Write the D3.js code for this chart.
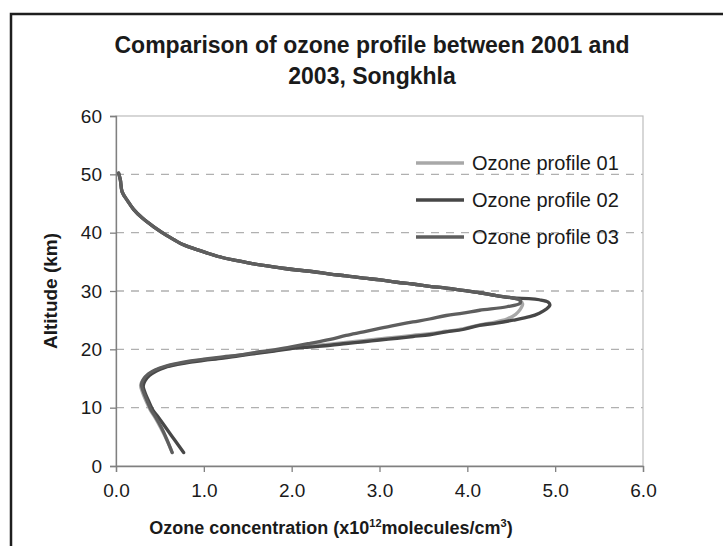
<!DOCTYPE html>
<html>
<head>
<meta charset="utf-8">
<script src="https://cdn.jsdelivr.net/npm/d3@7"></script>
<style>
  html, body { margin: 0; padding: 0; background: #fff; }
  svg { display: block; font-family: "Liberation Sans", Arial, sans-serif; }
</style>
</head>
<body>
<svg id="chart" width="723" height="546"></svg>
<script>
// Ozone profiles: concentration (x10^12 molecules/cm^3) against altitude (km)
const seriesNames = ["Ozone profile 01", "Ozone profile 02", "Ozone profile 03"];
const seriesColors = ["#a8a8a8", "#474747", "#5e5e5e"];

// shared stratospheric part above the peak
const upperConc = [0.03, 0.05, 0.07, 0.13, 0.20, 0.30, 0.43, 0.58, 0.73, 0.88, 1.04, 1.22, 1.38, 1.55, 1.72, 1.90, 2.06, 2.25, 2.44, 2.62, 2.82, 3.01, 3.20, 3.38, 3.57, 3.76, 3.95, 4.14, 4.33, 4.52];
const upperAlt  = [50.2, 49.0, 47.0, 45.5, 44.0, 42.5, 41.0, 39.5, 38.2, 37.3, 36.5, 35.7, 35.2, 34.7, 34.3, 33.9, 33.6, 33.3, 32.9, 32.6, 32.2, 31.9, 31.5, 31.2, 30.8, 30.5, 30.1, 29.7, 29.2, 28.8];

// profile 01: peak and lower part
const lower01Conc = [4.60, 4.63, 4.60, 4.55, 4.45, 4.29, 4.14, 3.95, 3.76, 3.57, 3.38, 3.20, 3.00, 2.82, 2.62, 2.44, 2.20, 1.98, 1.80, 1.60, 1.40, 1.22, 1.00, 0.85, 0.70, 0.56, 0.45, 0.36, 0.30, 0.28, 0.30, 0.34, 0.39, 0.44, 0.51, 0.58, 0.64];
const lower01Alt  = [28.4, 27.8, 26.8, 26.0, 25.2, 24.6, 24.2, 23.5, 23.1, 22.7, 22.4, 22.1, 21.8, 21.5, 21.2, 20.9, 20.6, 20.2, 19.8, 19.4, 19.0, 18.6, 18.2, 17.9, 17.5, 17.0, 16.4, 15.6, 14.6, 13.8, 12.7, 11.2, 9.6, 8.4, 6.5, 4.4, 2.3];

// profile 02: peak and lower part
const lower02Conc = [4.70, 4.82, 4.92, 4.94, 4.90, 4.82, 4.71, 4.52, 4.33, 4.14, 3.95, 3.76, 3.57, 3.38, 3.20, 3.00, 2.82, 2.62, 2.44, 2.20, 1.98, 1.80, 1.60, 1.40, 1.22, 1.00, 0.85, 0.70, 0.56, 0.46, 0.38, 0.33, 0.31, 0.33, 0.37, 0.42, 0.48, 0.57, 0.67, 0.77];
const lower02Alt  = [28.7, 28.5, 28.1, 27.6, 26.9, 26.2, 25.6, 25.0, 24.5, 24.1, 23.4, 23.0, 22.5, 22.2, 21.9, 21.6, 21.3, 21.0, 20.7, 20.4, 20.1, 19.7, 19.3, 18.9, 18.5, 18.1, 17.8, 17.4, 16.9, 16.3, 15.5, 14.6, 13.7, 12.6, 11.2, 9.6, 8.4, 6.5, 4.4, 2.3];

// profile 03: peak and lower part
const lower03Conc = [4.60, 4.60, 4.45, 4.14, 3.95, 3.76, 3.57, 3.38, 3.20, 3.00, 2.82, 2.62, 2.44, 2.20, 1.98, 1.80, 1.60, 1.40, 1.22, 1.00, 0.85, 0.70, 0.56, 0.45, 0.37, 0.31, 0.29, 0.31, 0.35, 0.40, 0.45, 0.52, 0.58, 0.64];
const lower03Alt  = [28.4, 27.9, 27.3, 26.7, 26.2, 25.8, 25.2, 24.7, 24.2, 23.6, 23.0, 22.4, 21.7, 21.0, 20.4, 19.9, 19.5, 19.0, 18.7, 18.3, 18.0, 17.6, 17.1, 16.5, 15.8, 14.8, 13.9, 12.8, 11.3, 9.6, 8.4, 6.5, 4.5, 2.3];

const xTicks = [0, 1, 2, 3, 4, 5, 6];
const yTicks = [0, 10, 20, 30, 40, 50, 60];

const svg = d3.select("#chart");

// outer chart frame (left and top edges in view)
svg.append("path")
  .attr("d", "M11,546 L11,14 L723,14")
  .attr("fill", "none").attr("stroke", "#1e1e1e").attr("stroke-width", 2.5);

const x = d3.scaleLinear().domain([0, 6]).range([116, 643]);
const y = d3.scaleLinear().domain([0, 60]).range([466, 116]);

// title
const title = svg.append("text")
  .attr("text-anchor", "middle")
  .attr("font-weight", "bold").attr("font-size", 23).attr("fill", "#1a1a1a");
title.append("tspan").attr("x", 372).attr("y", 53).text("Comparison of ozone profile between 2001 and");
title.append("tspan").attr("x", 372).attr("y", 84).text("2003, Songkhla");

// dashed gridlines
svg.append("g").selectAll("line")
  .data(yTicks.filter(d => d > 0 && d < 60))
  .join("line")
  .attr("x1", x(0)).attr("x2", x(6))
  .attr("y1", d => y(d)).attr("y2", d => y(d))
  .attr("stroke", "#b0b0b0").attr("stroke-width", 1.3)
  .attr("stroke-dasharray", "8,7");

// plot frame
svg.append("rect")
  .attr("x", x(0)).attr("y", y(60))
  .attr("width", x(6) - x(0)).attr("height", y(0) - y(60))
  .attr("fill", "none").attr("stroke", "#bcbcbc").attr("stroke-width", 1.2);

// axes
const xAxis = svg.append("g")
  .attr("transform", `translate(0,${y(0)})`)
  .call(d3.axisBottom(x).tickValues(xTicks).tickFormat(d3.format(".1f")).tickSize(6).tickPadding(12));
const yAxis = svg.append("g")
  .attr("transform", `translate(${x(0)},0)`)
  .call(d3.axisLeft(y).tickValues(yTicks).tickSize(6).tickPadding(8));

[xAxis, yAxis].forEach(g => {
  g.select(".domain").attr("stroke", "#808080").attr("stroke-width", 1.3);
  g.selectAll(".tick line").attr("stroke", "#808080").attr("stroke-width", 1.3);
  g.selectAll(".tick text")
    .attr("font-family", "Liberation Sans, Arial, sans-serif")
    .attr("font-size", 19).attr("fill", "#1a1a1a");
});

// axis titles
svg.append("text")
  .attr("transform", `translate(57,${(y(0) + y(60)) / 2}) rotate(-90)`)
  .attr("text-anchor", "middle")
  .attr("font-weight", "bold").attr("font-size", 19).attr("fill", "#1a1a1a")
  .text("Altitude (km)");

const xt = svg.append("text")
  .attr("x", 331).attr("y", 534)
  .attr("text-anchor", "middle")
  .attr("font-weight", "bold").attr("font-size", 18).attr("fill", "#1a1a1a");
xt.append("tspan").text("Ozone concentration (x10");
xt.append("tspan").attr("font-size", 11).attr("dy", -7).text("12");
xt.append("tspan").attr("dy", 7).text("molecules/cm");
xt.append("tspan").attr("font-size", 11).attr("dy", -7).text("3");
xt.append("tspan").attr("dy", 7).text(")");

// profiles
const zip = (c, a) => c.map((v, i) => ({ conc: v, alt: a[i] }));
const profiles = [
  zip(upperConc.concat(lower01Conc), upperAlt.concat(lower01Alt)),
  zip(upperConc.concat(lower02Conc), upperAlt.concat(lower02Alt)),
  zip(upperConc.concat(lower03Conc), upperAlt.concat(lower03Alt))
];

const line = d3.line()
  .x(d => x(d.conc)).y(d => y(d.alt))
  .curve(d3.curveCatmullRom.alpha(0.5));

// lighter profile first so the darker ones sit on top where they overlap
svg.append("g").selectAll("path")
  .data([0, 1, 2])
  .join("path")
  .attr("d", i => line(profiles[i]))
  .attr("fill", "none")
  .attr("stroke", i => seriesColors[i])
  .attr("stroke-width", 3.3)
  .attr("stroke-linejoin", "round").attr("stroke-linecap", "round");

// legend
const legend = svg.append("g").selectAll("g")
  .data(seriesNames)
  .join("g")
  .attr("transform", (d, i) => `translate(416,${163 + i * 37})`);
legend.append("line")
  .attr("x1", 0).attr("x2", 48)
  .attr("stroke", (d, i) => seriesColors[i]).attr("stroke-width", 3.3);
legend.append("text")
  .attr("x", 56).attr("dy", "0.36em")
  .attr("font-size", 20).attr("fill", "#1a1a1a")
  .text(d => d);
</script>
</body>
</html>
